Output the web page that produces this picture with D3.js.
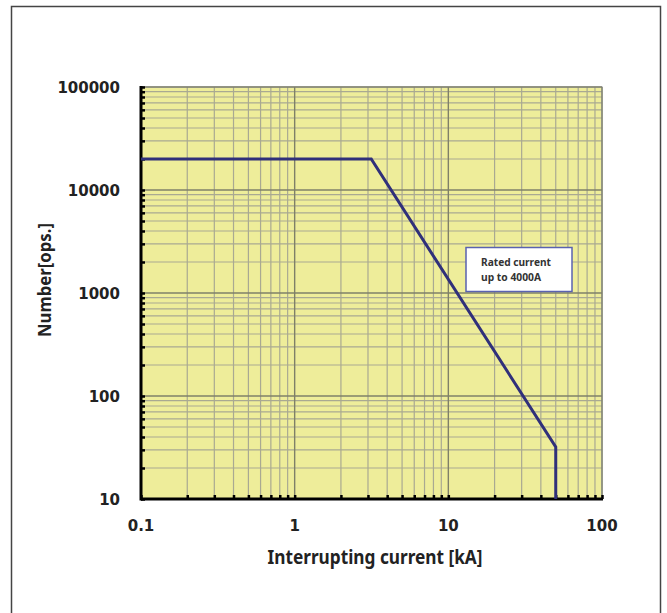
<!DOCTYPE html>
<html>
<head>
<meta charset="utf-8">
<script src="https://cdn.jsdelivr.net/npm/d3@7"></script>
<style>
  body { margin: 0; background: #fff; }
  svg { display: block; }
</style>
</head>
<body>
<div class="graphContainer"></div>
<script>
const w = 667;
const h = 613;

// data
const currentKA = [0.1, 3.15, 50, 50];
const operations = [20000, 20000, 32, 10];
const xTicks = [0.1, 1, 10, 100];
const yTicks = [10, 100, 1000, 10000, 100000];
const noteLines = ["Rated current", "up to 4000A"];

// plot area
const pLeft = 141, pRight = 602, pTop = 87, pBottom = 499;

const svg = d3.select(".graphContainer").append("svg")
    .attr("width", w)
    .attr("height", h);

// outer frame
svg.append("rect")
    .attr("x", 11.5).attr("y", 6.5)
    .attr("width", 649).attr("height", 620)
    .attr("fill", "none")
    .attr("stroke", "#444")
    .attr("stroke-width", 1.5);

const x = d3.scaleLog().domain([0.1, 100]).range([pLeft, pRight]);
const y = d3.scaleLog().domain([10, 100000]).range([pBottom, pTop]);

// yellow background
svg.append("rect")
    .attr("x", pLeft).attr("y", pTop)
    .attr("width", pRight - pLeft).attr("height", pBottom - pTop)
    .attr("fill", "#eeed9a")
    .attr("stroke", "#b9bcc8")
    .attr("stroke-width", 1.5);

// minor + major grid values
const xMinor = x.ticks().filter(d => xTicks.indexOf(d) < 0);
const yMinor = y.ticks().filter(d => yTicks.indexOf(d) < 0);

const grid = svg.append("g");
grid.selectAll(".vx").data(xMinor).enter().append("line")
    .attr("x1", d => x(d)).attr("x2", d => x(d))
    .attr("y1", pTop).attr("y2", pBottom)
    .attr("stroke", "#a9a992").attr("stroke-width", 1.2);
grid.selectAll(".hy").data(yMinor).enter().append("line")
    .attr("y1", d => y(d)).attr("y2", d => y(d))
    .attr("x1", pLeft).attr("x2", pRight)
    .attr("stroke", "#a9a992").attr("stroke-width", 1.2);
grid.selectAll(".vX").data(xTicks).enter().append("line")
    .attr("x1", d => x(d)).attr("x2", d => x(d))
    .attr("y1", pTop).attr("y2", pBottom)
    .attr("stroke", "#7f8068").attr("stroke-width", 1.4);
grid.selectAll(".hY").data(yTicks).enter().append("line")
    .attr("y1", d => y(d)).attr("y2", d => y(d))
    .attr("x1", pLeft).attr("x2", pRight)
    .attr("stroke", "#7f8068").attr("stroke-width", 1.4);

// axes: thick black with inward ticks
const xAxis = d3.axisTop(x).tickValues(x.ticks()).tickSize(4).tickFormat("");
const yAxis = d3.axisRight(y).tickValues(y.ticks()).tickSize(4).tickFormat("");

svg.append("g")
    .attr("transform", `translate(0,${pBottom})`)
    .call(xAxis)
    .call(g => g.select(".domain").remove())
    .selectAll("line").attr("stroke", "#000").attr("stroke-width", 2.5);

svg.append("g")
    .attr("transform", `translate(${pLeft},0)`)
    .call(yAxis)
    .call(g => g.select(".domain").remove())
    .selectAll("line").attr("stroke", "#000").attr("stroke-width", 2.5);

svg.append("line")
    .attr("x1", pLeft).attr("x2", pRight + 1)
    .attr("y1", pBottom).attr("y2", pBottom)
    .attr("stroke", "#000").attr("stroke-width", 3);
svg.append("line")
    .attr("x1", pLeft).attr("x2", pLeft)
    .attr("y1", pTop - 1).attr("y2", pBottom + 1.5)
    .attr("stroke", "#000").attr("stroke-width", 3);

// tick labels
svg.selectAll(".xl").data(xTicks).enter().append("text")
    .attr("x", d => x(d)).attr("y", 531)
    .attr("text-anchor", "middle")
    .style("font-family", "DejaVu Sans, Verdana, sans-serif")
    .style("font-weight", "bold").style("font-size", "15px")
    .attr("fill", "#222")
    .text(d => d);

svg.selectAll(".yl").data(yTicks).enter().append("text")
    .attr("x", 120).attr("y", d => y(d) + 6)
    .attr("text-anchor", "end")
    .style("font-family", "DejaVu Sans, Verdana, sans-serif")
    .style("font-weight", "bold").style("font-size", "15px")
    .attr("fill", "#222")
    .text(d => d);

// axis titles
svg.append("text")
    .attr("x", 375).attr("y", 564)
    .attr("text-anchor", "middle")
    .style("font-family", "Noto Sans, sans-serif")
    .style("font-weight", "bold").style("font-size", "19px")
    .attr("textLength", 215).attr("lengthAdjust", "spacingAndGlyphs")
    .attr("fill", "#222")
    .text("Interrupting current [kA]");

svg.append("text")
    .attr("transform", "translate(51,280) rotate(-90)")
    .attr("text-anchor", "middle")
    .style("font-family", "Noto Sans, sans-serif")
    .style("font-weight", "bold").style("font-size", "18.5px")
    .attr("textLength", 114).attr("lengthAdjust", "spacingAndGlyphs")
    .attr("fill", "#222")
    .text("Number[ops.]");

// the curve
const line = d3.line()
    .x((d, i) => x(currentKA[i]))
    .y(d => y(d));

svg.append("path")
    .datum(operations)
    .attr("d", line)
    .attr("fill", "none")
    .attr("stroke", "#30307a")
    .attr("stroke-width", 3)
    .attr("stroke-linejoin", "miter");

// note box
svg.append("rect")
    .attr("x", 466).attr("y", 247.5)
    .attr("width", 106).attr("height", 44)
    .attr("fill", "#fff")
    .attr("stroke", "#5a62b0")
    .attr("stroke-width", 1.5);

svg.selectAll(".note").data(noteLines).enter().append("text")
    .attr("x", 481).attr("y", (d, i) => 266 + i * 15)
    .style("font-family", "Noto Sans, sans-serif")
    .style("font-weight", "bold").style("font-size", "10px")
    .attr("textLength", (d, i) => i ? 60 : 70).attr("lengthAdjust", "spacingAndGlyphs")
    .attr("fill", "#333")
    .text(d => d);
</script>
</body>
</html>
